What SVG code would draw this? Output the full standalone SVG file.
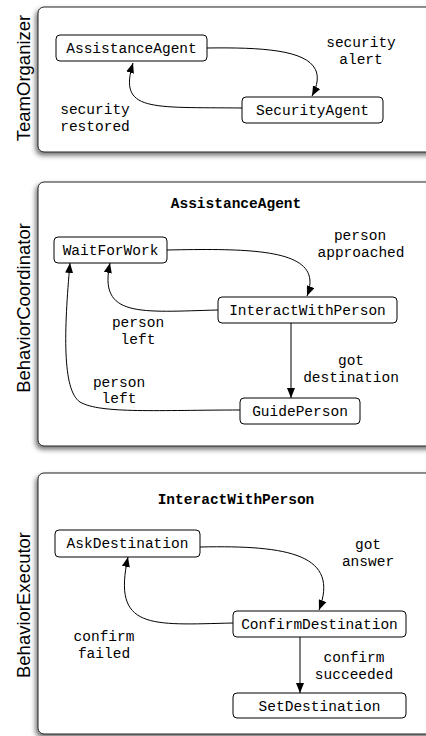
<svg xmlns="http://www.w3.org/2000/svg" width="426" height="736" viewBox="0 0 426 736">
<defs>
<filter id="sh" x="-10%" y="-10%" width="120%" height="130%">
<feDropShadow dx="-2" dy="3" stdDeviation="2.5" flood-color="#000" flood-opacity="0.55"/>
</filter>
<marker id="arr" markerUnits="userSpaceOnUse" markerWidth="10" markerHeight="8" refX="10" refY="4" orient="auto">
<path d="M0,0 L10,4 L0,8 z" fill="#000"/>
</marker>
</defs>
<style>
.panel{fill:#fff;stroke:#222;stroke-width:1;filter:url(#sh)}
.node{fill:#fff;stroke:#000;stroke-width:1}
.t{font-family:"Liberation Mono","Courier New",monospace;font-size:14.5px;fill:#000;text-anchor:middle}
.b{font-weight:bold}
.side{font-family:"Liberation Sans",Arial,sans-serif;font-size:18.5px;fill:#000;text-anchor:middle}
.c{fill:none;stroke:#000;stroke-width:1;marker-end:url(#arr)}
</style>
<rect width="426" height="736" fill="#fff"/>

<g id="panel-team">
<rect class="panel" x="38" y="7" width="420" height="145" rx="6"/>
<text class="side" transform="translate(29.5,78) rotate(-90)">TeamOrganizer</text>
</g>
<g id="panel-coord">
<rect class="panel" x="38" y="182" width="420" height="264" rx="6"/>
<text class="side" transform="translate(29.5,308) rotate(-90)">BehaviorCoordinator</text>
<text class="t b" x="236" y="208">AssistanceAgent</text>
</g>
<g id="panel-exec">
<rect class="panel" x="38" y="473" width="420" height="261" rx="6"/>
<text class="side" transform="translate(29.5,605) rotate(-90)">BehaviorExecutor</text>
<text class="t b" x="236" y="504">InteractWithPerson</text>
</g>

<g id="connectors">
<path class="c" d="M207,48 C280,47 335,52 312,96"/>
<path class="c" d="M242,108 C150,107 118,112 133,63"/>
<path class="c" d="M167,250 C260,248 325,250 307,296"/>
<path class="c" d="M218,310 C140,312 98,318 110,263"/>
<path class="c" d="M291,323 L291,398"/>
<path class="c" d="M240,410 C160,410 100,414 80,402 C62,390 64,330 70,263"/>
<path class="c" d="M200,547 C290,545 340,555 319,610"/>
<path class="c" d="M233,623 C150,625 112,630 128,557"/>
<path class="c" d="M300,637 L300,693"/>
<text class="t" x="361" y="47">security</text>
<text class="t" x="361" y="64">alert</text>
<text class="t" x="95" y="114">security</text>
<text class="t" x="95" y="131">restored</text>
<text class="t" x="360" y="240">person</text>
<text class="t" x="361" y="257">approached</text>
<text class="t" x="138" y="327">person</text>
<text class="t" x="138" y="344">left</text>
<text class="t" x="351" y="365">got</text>
<text class="t" x="351" y="382">destination</text>
<text class="t" x="119" y="387">person</text>
<text class="t" x="119" y="403">left</text>
<text class="t" x="368" y="549">got</text>
<text class="t" x="368" y="566">answer</text>
<text class="t" x="104" y="641">confirm</text>
<text class="t" x="104" y="658">failed</text>
<text class="t" x="354" y="662">confirm</text>
<text class="t" x="354" y="679">succeeded</text>
</g>

<g id="AssistanceAgent"><rect class="node" x="56" y="35" width="151" height="26" rx="4"/><text class="t" x="131.5" y="53">AssistanceAgent</text></g>
<g id="SecurityAgent"><rect class="node" x="242" y="97" width="141" height="26" rx="4"/><text class="t" x="312.5" y="115">SecurityAgent</text></g>
<g id="WaitForWork"><rect class="node" x="54" y="237" width="113" height="26" rx="4"/><text class="t" x="110.5" y="255">WaitForWork</text></g>
<g id="InteractWithPerson"><rect class="node" x="218" y="297" width="179" height="26" rx="4"/><text class="t" x="307.5" y="315">InteractWithPerson</text></g>
<g id="GuidePerson"><rect class="node" x="240" y="398" width="120" height="26" rx="4"/><text class="t" x="300" y="416">GuidePerson</text></g>
<g id="AskDestination"><rect class="node" x="55" y="530" width="145" height="27" rx="4"/><text class="t" x="127.5" y="548">AskDestination</text></g>
<g id="ConfirmDestination"><rect class="node" x="233" y="611" width="173" height="26" rx="4"/><text class="t" x="319.5" y="629">ConfirmDestination</text></g>
<g id="SetDestination"><rect class="node" x="233" y="693" width="173" height="25" rx="4"/><text class="t" x="319.5" y="711">SetDestination</text></g>
</svg>
